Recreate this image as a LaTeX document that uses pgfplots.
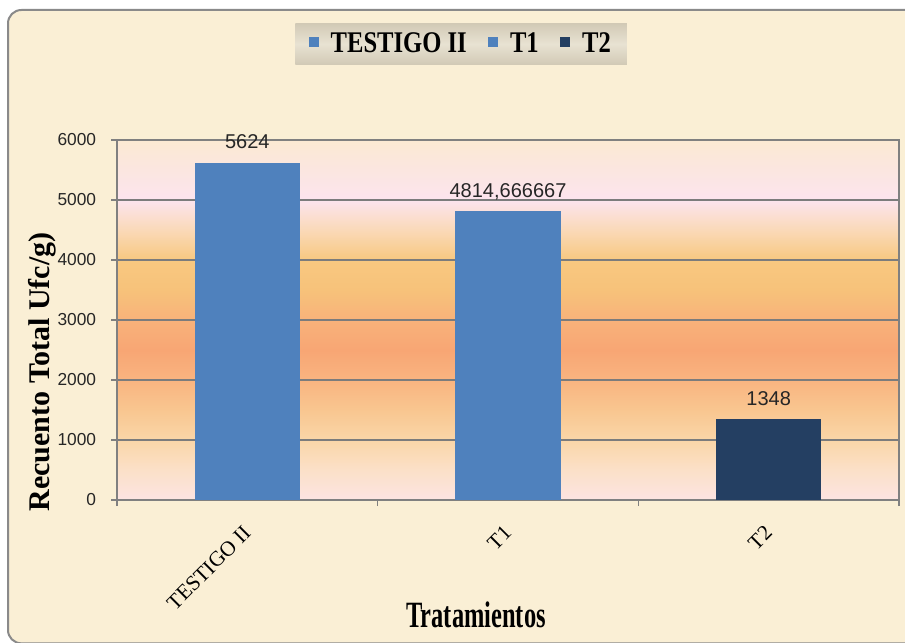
\documentclass[border=0pt]{standalone}
\usepackage{fontspec}
\setmainfont{Liberation Serif}
\setsansfont{Liberation Sans}
\newfontfamily\legfont[FakeStretch=0.82]{Liberation Serif}
\newfontfamily\xlabfont[FakeStretch=0.66]{Liberation Serif}
\newfontfamily\arial{Liberation Sans}
\usepackage{pgfplots}
\pgfplotsset{compat=1.18}

\definecolor{paper}{HTML}{FAEFD5}
\definecolor{framegray}{HTML}{8A8A8A}
\definecolor{barblue}{HTML}{4F81BD}
\definecolor{bardark}{HTML}{243F62}
\definecolor{axisgray}{HTML}{808080}
\definecolor{gridgray}{HTML}{7C7C7C}
\definecolor{legdark}{HTML}{D2CAB6}
\definecolor{leglight}{HTML}{E8E2D2}
% plot area gradient, bottom (0) to top (6000), every 500
\definecolor{g0}{HTML}{FCE4E2}
\definecolor{g1}{HTML}{FBE0C8}
\definecolor{g2}{HTML}{FAD6A8}
\definecolor{g3}{HTML}{F9C690}
\definecolor{g4}{HTML}{F9B480}
\definecolor{g5}{HTML}{F8A674}
\definecolor{g6}{HTML}{F8B27A}
\definecolor{g7}{HTML}{F7C27A}
\definecolor{g8}{HTML}{F8C880}
\definecolor{g9}{HTML}{FAD9B8}
\definecolor{g10}{HTML}{FCE4EE}
\definecolor{g11}{HTML}{FBE6E0}
\definecolor{g12}{HTML}{FBE9D3}
\pgfdeclareverticalshading{plotbg}{100bp}{color(0bp)=(g0); color(25bp)=(g0);
  color(29.17bp)=(g1); color(33.33bp)=(g2); color(37.5bp)=(g3);
  color(41.67bp)=(g4); color(45.83bp)=(g5); color(50bp)=(g6);
  color(54.17bp)=(g7); color(58.33bp)=(g8); color(62.5bp)=(g9);
  color(66.67bp)=(g10); color(70.83bp)=(g11); color(75bp)=(g12); color(100bp)=(g12)}

\begin{document}
\begin{tikzpicture}
% 1 px of the reference = 0.75pt; y runs downward as negative
\path[use as bounding box] (0pt,0pt) rectangle (678.75pt,-481.5pt);
\fill[white] (0pt,0pt) rectangle (678.75pt,-481.5pt);
\begin{scope}
  \clip (0pt,0pt) rectangle (678.75pt,-481.5pt);
  \draw[framegray, line width=1.5pt, fill=paper, rounded corners=10pt]
    (6pt,-7.5pt) rectangle (705pt,-482.5pt);
\end{scope}

\begin{axis}[
  at={(87.75pt,-375pt)}, anchor=south west,
  scale only axis, width=586.5pt, height=270pt,
  xmin=-0.5, xmax=2.5, ymin=0, ymax=6000,
  ytick={0,1000,...,6000},
  % tick marks between categories, names at the category centres
  xtick={-0.5,0.5,1.5,2.5},
  xticklabels={},
  extra x ticks={0,1,2},
  extra x tick labels={TESTIGO II,T1,T2},
  extra x tick style={major tick length=0pt},
  tick align=outside, tick pos=left,
  major tick length=4.5pt,
  tick style={draw=axisgray, line width=0.9pt},
  ymajorgrids, grid style={gridgray, line width=0.9pt},
  axis line style={axisgray, line width=0.9pt},
  axis background/.style={shade, shading=plotbg},
  scaled y ticks=false,
  /pgf/number format/assume math mode=true,
  /pgf/number format/1000 sep={},
  yticklabel style={anchor=east, inner sep=0pt, xshift=-11pt, text=black!85,
    font=\arial\fontsize{13}{15}\selectfont},
  xticklabel style={xshift=-4pt, yshift=-18pt, rotate=45, anchor=north east, inner sep=0pt,
    font=\rmfamily\fontsize{16}{18}\selectfont},
  ybar, bar width=0.404, bar shift=0pt,
  point meta=explicit symbolic,
  nodes near coords,
  every node near coord/.append style={anchor=base, yshift=10.5pt, inner sep=0pt,
    text=black!85, font=\arial\fontsize{15}{17}\selectfont},
  legend columns=3,
  legend image code/.code={\fill[#1] (0pt,-1.9pt) rectangle (7.5pt,5.6pt);},
  legend style={at={(0.44,1.2667)}, anchor=center, draw=none,
    top color=legdark, bottom color=legdark, middle color=leglight,
    inner xsep=10pt, inner ysep=5pt,
    font=\legfont\bfseries\fontsize{22.5}{26}\selectfont,
    /tikz/every odd column/.append style={column sep=7pt},
    /tikz/every even column/.append style={column sep=14pt}},
]
\addplot[fill=barblue, draw=none] coordinates {(0,5624) [5624]};
\addlegendentry{TESTIGO II}
\addplot[fill=barblue, draw=none] coordinates {(1,4814.666667) [4814,666667]};
\addlegendentry{T1}
\addplot[fill=bardark, draw=none] coordinates {(2,1348) [1348]};
\addlegendentry{T2}
\end{axis}

\node[anchor=base, inner sep=0pt, font=\xlabfont\bfseries\fontsize{27.8}{30}\selectfont]
  at (357pt,-470.25pt) {Tratamientos};
\node[anchor=base, rotate=90, inner sep=0pt, font=\rmfamily\bfseries\fontsize{22.5}{26}\selectfont]
  at (36.75pt,-279pt) {Recuento Total Ufc/g)};
\end{tikzpicture}
\end{document}
